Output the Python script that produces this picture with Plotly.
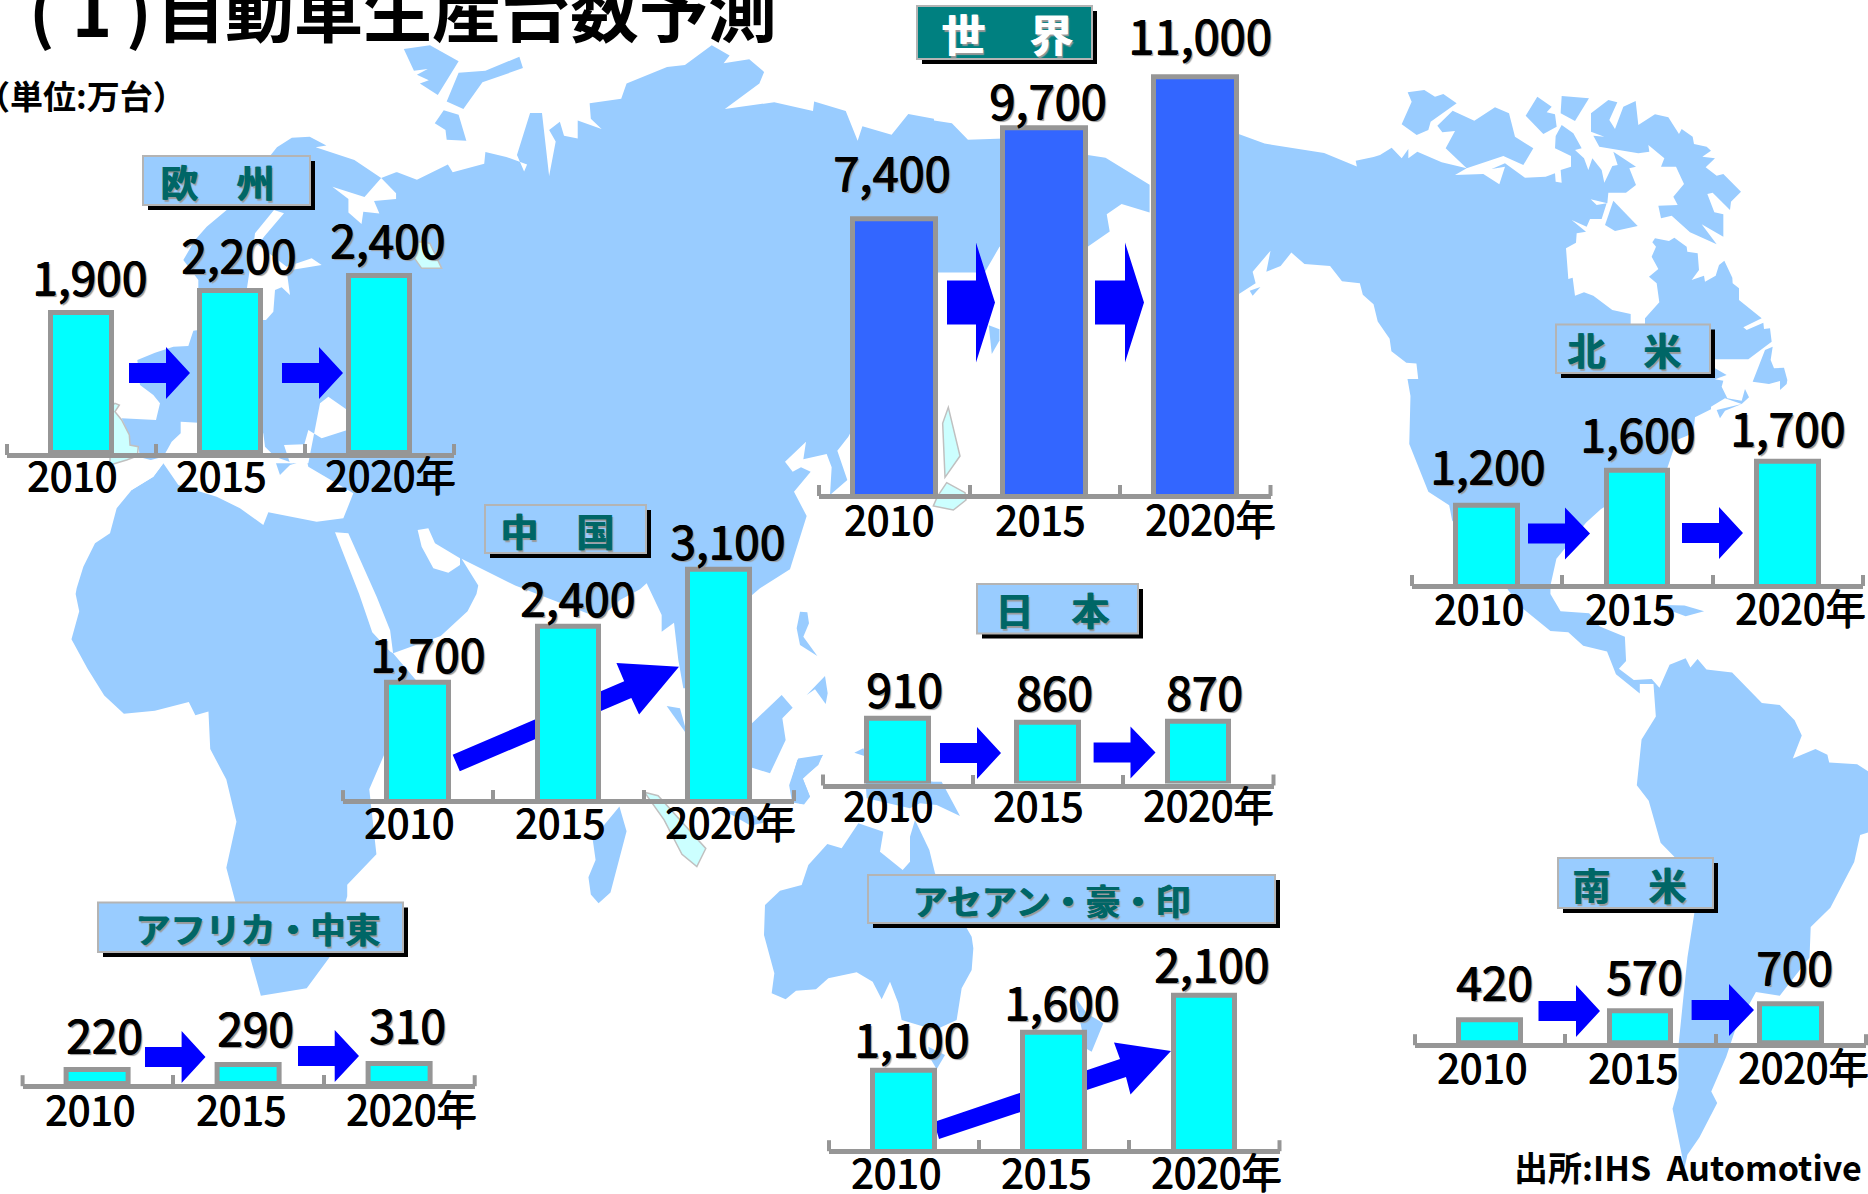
import plotly.graph_objects as go

W, H = 1868, 1194
FONT = "Noto Sans CJK JP"
LAND, PALE, GRAY, BLUE, CYAN, ROYAL = "#99CCFF", "#CCFFFF", "#969696", "#0000FF", "#00FFFF", "#3366FF"

# ---------- data ----------
years = ["2010", "2015", "2020年"]
world = [7400, 9700, 11000]
europe = [1900, 2200, 2400]
china = [1700, 2400, 3100]
north_america = [1200, 1600, 1700]
japan = [910, 860, 870]
asean = [1100, 1600, 2100]
africa_me = [220, 290, 310]
south_america = [420, 570, 700]

def tile(x0, y0, sx, sy):
    return lambda pts: [(x0 + a / sx, y0 + b / sy) for a, b in pts]
Z1, Z2 = tile(0, 0, 1.679, 2.613), tile(934, 0, 1.679, 2.613)
Z3, Z4 = tile(0, 594, 1.679, 2.613), tile(934, 594, 1.679, 2.613)
Z5, Z6 = tile(60, 200, 3, 3), tile(600, 380, 3, 3)
Z7, Z8 = tile(720, 740, 3, 3), tile(1380, 70, 3, 3)

afro_eurasia = (
    Z1([(465,385),(490,360),(520,357),(548,380),(530,385),(595,418),(640,465),(665,450),(667,450),(700,470),(752,430),(760,450),
        (813,428),(815,397),(850,410),(885,430),(880,448),(868,405),(890,295),(910,295),(922,460),(933,370),(922,340),(940,318),
        (947,355),(970,362),(970,315),(1010,337),(992,310),(990,270),(1043,258),(1052,218),(1120,175),(1150,170),(1195,118),
        (1225,145),(1215,165),(1258,155),(1283,188),(1275,218),(1217,285),(1300,267),(1365,290),(1367,265),(1420,290),(1440,368),
        (1448,330),(1497,352),(1525,298),(1568,310)])
    + Z2([(0,315),(30,322),(57,365),(118,362),(258,405),(288,412),(362,483),(362,555),(315,533),(290,560),(295,605),(258,645),
          (110,645),(85,712),(0,712)])
    + Z6([(745,170),(712,212),(742,300),(690,345),(695,262),(680,222),(610,238),(618,185),(555,245),(578,275),(603,262),(632,275),
          (582,335),(620,408),(570,568),(480,625),(445,655),(350,800),(258,925),(250,925),(235,840),(222,728),(185,755),(185,705),
          (140,610),(120,628),(60,660),(0,715)])
    + Z1([(865,1530),(785,1468),(775,1460),(803,1530)])
    + Z3([(800,0),(785,45),(740,110),(660,155),(700,228),(645,420),(620,510),(632,680),(583,760),(583,790),(553,950),(515,1030),
          (438,1050),(420,950),(380,715),(397,595),(380,485),(353,405),(350,307),(328,317),(317,282),(260,305),(208,313),(175,265),
          (147,195),(120,118),(133,45),(127,0)])
    + Z5([(50,1165),(70,1100),(105,1030),(150,1000),(170,925),(215,870),(280,830),(310,790),(240,772),(235,740),(210,735),(208,705),
          (185,655),(288,660),(300,610),(280,585),(240,555),(232,480),(285,458),(340,440),(385,438),(400,392),(415,390),(415,240),
          (370,180),(405,120),(440,80),(500,30)])
)
arctic_islands = [
    Z1([(678,128),(722,118),(770,160),(735,248),(705,218),(720,210),(700,195),(718,180),(695,185)]),
    Z1([(770,190),(815,185),(872,148),(878,178),(810,215),(778,285),(750,265)]),
    Z1([(745,288),(770,300),(783,368),(750,365),(748,340),(730,322)]),
    Z8([(83,67),(133,60),(165,80),(190,72),(230,100),(152,155),(145,180),(110,195),(65,163),(95,95)]),
    Z8([(172,167),(218,122),(283,152),(345,112),(387,130),(405,200),(460,235),(430,285),(370,258),(260,295),(197,235),(225,183),(187,187)]),
    Z8([(437,137),(472,80),(515,110),(500,127),(525,133),(530,170),(490,192)]),
    Z8([(545,78),(627,85),(585,153),(542,130)]),
    Z8([(633,130),(685,90),(712,97),(688,150),(705,177),(730,110),(767,93),(775,165),(825,133),(865,142),(897,192),(905,177),(938,200),
        (942,222),(980,230),(993,242),(967,260),(1005,265),(977,292),(1010,317),(1030,312),(1083,365),(1053,395),(1050,420),(998,368),
        (982,372),(1003,427),(1030,433),(1030,500),(965,463),(1010,523),(930,487),(875,437),(843,445),(835,407),(893,405),(880,380),
        (912,342),(888,290),(843,290),(853,265),(805,225),(808,245),(775,250),(658,230),(640,197),(673,200),(633,185)]),
    Z8([(675,465),(700,392),(773,468),(705,483)]),
    Z8([(1178,830),(1172,870),(1182,895),(1212,893),(1222,930),(1220,942),(1200,960),(1200,933),(1167,942),(1118,935),(1155,840)]),
    Z8([(1010,1020),(1085,1002),(1035,1022),(1020,1045)]),
]
americas = (
    Z2([(508,348),(555,375),(655,400),(710,435),(708,420),(738,410)])
    + Z8([(0,255),(35,233),(65,265),(85,237),(85,265),(112,245),(185,277),(260,295),(225,315),(310,312),(358,343),(375,290),(335,297),
          (375,280),(435,323),(497,320),(525,310),(527,335),(545,338),(542,300),(573,290),(573,258),(525,235),(527,198),(545,165),(580,190),
          (605,235),(585,240),(612,265),(625,300),(637,265),(665,300),(673,338),(697,288),(713,285),(700,245),(768,290),(748,295),(768,345),
          (738,368),(685,368),(682,400),(632,388),(650,405),(680,400),(665,447),(630,447),(620,470),(575,450),(618,485),(590,490),(588,518),
          (558,535),(565,627),(578,623),(585,677),(612,667),(640,677),(697,720),(752,732),(752,765),(795,762),(795,745),(838,697),(830,640),
          (807,620),(835,597),(815,560),(828,530),(817,517),(825,505),(867,513),(883,503),(920,530),(922,545),(953,550),(957,600),(935,630),
          (972,617),(975,635),(1007,617),(1017,585),(1033,572),(1057,623),(1058,640),(1077,655),(1077,690),(1145,745),(1090,772),(1100,780),
          (1150,758),(1152,777),(1170,775),(1175,815),(1105,868),(1005,868),(1005,895),(1040,915),(1005,928),(1030,932),(1025,950),(1042,985),
          (1085,992),(1095,957),(1107,982),(1085,1002),(1035,985),(993,1010),(993,1018),(945,1042),(940,1090),(890,1110),(860,1200)])
    + Z2([(1120,1330),(1095,1365),(1045,1460),(1035,1530)])
    + Z4([(1035,0),(1052,45),(1100,50),(1118,85),(1160,112),(1162,175),(1150,195),(1175,225),(1205,222),(1218,245),(1235,185),(1262,168),
          (1270,192),(1282,170),(1297,197),(1340,205),(1390,285),(1420,290),(1445,330),(1457,370),(1442,430),(1480,405),(1500,420),(1503,440),
          (1550,445),(1575,470),(1575,620),(1555,630),(1545,700),(1505,820),(1472,870),(1470,950),(1420,1050),(1380,1040),(1345,1140),
          (1330,1210),(1305,1300),(1315,1330),(1285,1420),(1265,1465),(1260,1500),(1240,1345),(1250,1290),(1250,1180),(1265,950),(1280,800),
          (1245,690),(1220,650),(1200,540),(1180,500),(1188,380),(1212,320),(1208,235),(1185,235),(1185,260),(1145,210),(1130,150),(1090,135),
          (1065,100),(1035,97),(990,40)])
    + Z2([(870,1360),(865,1320),(830,1285),(798,1160),(800,1035),(795,990),(813,990),(810,950),(793,948),(768,918),(765,885),(745,840),
          (738,795),(720,770),(715,740),(685,735),(665,695),(622,690),(600,660),(582,695),(558,710),(565,655),(535,710),(540,740),(510,770)])
)
other_land = [
    Z7([(415,250),(490,275),(480,335),(548,390),(570,365),(570,290),(585,240),(628,330),(645,400),(755,590),(760,625),(755,690),(725,745),
        (710,840),(645,870),(545,840),(535,790),(510,725),(485,778),(458,725),(410,697),(325,715),(288,748),(228,752),(197,778),(155,760),
        (163,700),(132,585),(135,495),(180,452),(245,435),(265,375),(322,312),(365,325)]),
    Z7([(625,920),(675,945),(650,988),(628,950)]),
    Z7([(1065,770),(1100,820),(1150,850),(1115,935),(1097,925)]),
    Z3([(1040,555),(1052,620),(1025,780),(1005,808),(992,785),(988,740),(1000,695),(995,640)]),
    Z6([(445,1040),(545,945),(578,983),(547,1015),(557,1080),(510,1180),(447,1160)]),
    Z6([(200,978),(240,985),(258,1050),(258,1060)]),
    Z6([(600,695),(622,697),(627,730),(610,770),(652,828),(600,795),(590,745)]),
    Z6([(620,945),(675,888),(683,940),(677,972),(645,928)]),
    Z3([(1340,430),(1382,420),(1370,450),(1348,483),(1360,530),(1350,550),(1330,545),(1325,500)]),
    Z7([(212,130),(232,60),(308,45),(295,75),(248,115),(270,170),(240,192),(215,165)]),
    Z7([(403,38),(430,25),(440,50)]),
    Z7([(435,95),(640,125),(665,125),(720,228),(650,195),(600,190),(570,205),(440,175)]),
    Z3([(1215,565),(1255,570),(1290,595),(1260,605)]),
    Z4([(1210,28),(1260,30),(1293,45),(1262,58)]),
    Z2([(530,760),(548,750),(535,773)]),
    Z2([(92,850),(110,860),(110,890),(97,925)]),
]
seas = [
    Z5([(642,30),(672,40),(612,110),(595,135),(680,200),(755,175),(785,195),(680,212),(690,285),(665,262),(645,270),(640,335),(618,360),
        (608,360),(600,270),(560,270),(580,140),(585,100)]),
    Z1([(558,488),(612,515),(640,465),(665,505),(665,520),(628,525),(637,558),(610,553),(607,585),(585,555),(585,520)]),
    Z5([(780,610),(805,590),(862,630),(862,690),(785,715),(745,690),(733,733),(672,735),(690,790),(745,790)]),
    Z5([(170,815),(235,790),(310,770),(335,725),(362,700),(362,665),(415,668),(440,700),(610,700),(615,740),(645,770),(700,790),(648,790),
        (660,825),(690,795),(740,780),(745,800),(880,880),(850,955),(770,965),(625,937),(610,975),(540,925),(470,890),(355,855),(310,790),
        (280,830),(215,870)]),
    Z5([(825,997),(865,1000),(950,1190)]) + Z3([(655,95),(660,155),(655,150),(625,100),(603,0)]),
    Z5([(1073,990),(1105,985),(1125,1030),(1200,1075),(1200,1095),(1165,1118),(1120,1105),(1085,1040)]),
]
pale_land = [
    Z5([(150,620),(165,610),(178,615),(165,635),(185,660),(208,705),(210,735),(235,740),(232,768),(200,780),(150,795)]),
    Z5([(1050,155),(1075,125),(1110,130),(1145,205),(1085,205),(1060,170)]),
    Z6([(1045,82),(1080,228),(1035,292),(1028,130)]),
    Z6([(1040,308),(1095,338),(1098,360),(1060,390),(1000,378),(1012,350)]),
    Z3([(1082,518),(1105,527),(1185,665),(1170,712),(1145,680),(1115,590)]),
]

# ---------- page layout of each panel (pixels) ----------
# name, values, axis x0, axis x1, baseline, px per unit, axis floor, bar fill, bar fraction,
# value-label x shifts, value-label size, year-label left offset, year-label drop, value-label lift per bar
panels = [
    ("world", world, 819, 1270.5, 497.5, 0.0395, 450, ROYAL, 0.55, [-3, 3, 5], 47, -52, 7.5, [9, -9, 4]),
    ("europe", europe, 7, 454, 456.5, 0.0737, 0, CYAN, 0.41, [8, 8, 8], 46, -57, 5.5, [0, 0, 0]),
    ("china", china, 343, 794, 802.6, 0.081, 270, CYAN, 0.41, [9, 9, 9], 46, -56, 6, [-7, -7, -7]),
    ("north_america", north_america, 1412, 1863, 587.5, 0.088, 310, CYAN, 0.41, [0, 0, 0], 46, -55, 6.5, [4, 0, -2]),
    ("japan", japan, 823, 1273.5, 787, 0.0712, 0, CYAN, 0.41, [6, 6, 6], 46, -57, 5, [-6, -6, -6]),
    ("asean", asean, 829, 1279.5, 1152.7, 0.0748, 50, CYAN, 0.41, [7, 7, 7], 46, -55, 5.5, [-4, -5, -4]),
    ("africa_me", africa_me, 22.6, 474.7, 1087.7, 0.065, 0, CYAN, 0.41, [7, 7, 8], 46, -55, 8, [-1, 1, 3]),
    ("south_america", south_america, 1415, 1866, 1046.7, 0.0555, 0, CYAN, 0.41, [4, 4, 4], 46, -55, 7, [2, 0, 1]),
]
# text, box x0,y0,x1,y1, fill, text colour, size, text centre
headers = [
    ("世\u3000界", 917, 6, 1092, 59, "#008080", "#FFFFFF", 44, 1007),
    ("欧\u3000州", 143, 156, 310, 205, LAND, "#006666", 38, 217),
    ("中\u3000国", 485, 505, 646, 553, LAND, "#006666", 38, 557),
    ("北\u3000米", 1556, 324.5, 1710, 373, LAND, "#006666", 38, 1624),
    ("日\u3000本", 977, 584, 1138, 633.4, LAND, "#006666", 38, 1052),
    ("アセアン・豪・印", 868, 875, 1275, 923, LAND, "#006666", 35, 1051),
    ("アフリカ・中東", 98, 902.5, 403, 952, LAND, "#006666", 35, 257.5),
    ("南\u3000米", 1558, 858, 1713, 908, LAND, "#006666", 38, 1629),
]
# tail x, head base x, tip x, centre y, shaft half height, head half height
block_arrows = [
    (129, 166, 190, 373, 10, 26), (282, 319, 343, 373, 10, 26),
    (947, 976, 995, 302.5, 22, 60), (1095, 1125, 1144, 302.5, 22, 60),
    (1528, 1565, 1590, 533.5, 10, 26), (1682, 1719, 1743, 533, 10, 26),
    (940, 977, 1001, 753, 10, 26), (1093.6, 1130.5, 1155.5, 752.4, 10, 26),
    (145, 181.6, 205.5, 1057, 10, 26), (298, 334.7, 359, 1056, 10, 26),
    (1538.5, 1576, 1600, 1011, 10, 26), (1691.6, 1729, 1754, 1010, 10, 26),
]
slant_arrows = [
    Z3([(760,420),(772,463),(1060,272),(1073,315),(1140,190),(1035,180),(1048,228)]),
    [(934,1122),(1120,1059),(1114,1042.5),(1171,1051),(1130.5,1094.6),(1126,1077),(939,1139)],
]

# ---------- helpers ----------
def px(x): return x / W
def py(y): return 1 - y / H

def poly(points, fill, line=None, lw=0):
    d = "M" + "L".join(f"{px(a):.5f},{py(b):.5f}" for a, b in points) + "Z"
    return dict(type="path", path=d, xref="paper", yref="paper", layer="below", fillcolor=fill,
                line=dict(color=line or fill, width=lw))

def rect(x0, y0, x1, y1, fill, line=None, lw=0):
    return dict(type="rect", xref="paper", yref="paper", layer="below", x0=px(x0), x1=px(x1),
                y0=py(y1), y1=py(y0), fillcolor=fill, line=dict(color=line or fill, width=lw))

def font(size, color="#000000", shadow="none", weight="bold"):
    return dict(family=FONT, size=size, color=color, weight=weight, shadow=shadow)

def page_text(text, x, y, anchor, size):
    return dict(text=text, xref="paper", yref="paper", x=px(x), y=py(y), xanchor=anchor, yanchor="middle",
                showarrow=False, font=font(size))

FAUX_BOLD = "1px 0 0 #000000, 0 1px 0 #000000"
shapes = []
for part in [afro_eurasia, americas] + arctic_islands + other_land:
    shapes.append(poly(part, LAND))
for part in seas:
    shapes.append(poly(part, "#FFFFFF"))
for part in pale_land:
    shapes.append(poly(part, PALE, "#C0C0C0", 1.5))
for a, b, c, y, s, h in block_arrows:
    shapes.append(poly([(a, y - s), (b, y - s), (b, y - h), (c, y), (b, y + h), (b, y + s), (a, y + s)], BLUE))
for part in slant_arrows:
    shapes.append(poly(part, BLUE))

annotations = []
for text, x0, y0, x1, y1, fill, color, size, cx in headers:
    shapes.append(rect(x0 + 5, y0 + 5, x1 + 5, y1 + 5, "#000000"))
    shapes.append(rect(x0, y0, x1, y1, fill, "#B4B4B4", 2))
    annotations.append(dict(text=text, xref="paper", yref="paper", x=px(cx), y=py((y0 + y1) / 2), xanchor="center",
                            yanchor="middle", showarrow=False,
                            font=font(size, color, f"1px 0 0 {color}, 2px 2px 1px #999999")))

annotations += [
    page_text("(", 42, 7, "center", 68),
    page_text("1", 92, 7, "center", 68),
    page_text(")", 139, 7, "center", 68),
    page_text("自動車生産台数予測", 154, 7, "left", 69),
    page_text("（単位:万台）", -25, 95, "left", 33),
    page_text("出所:IHS  Automotive", 1864, 1166, "right", 34),
]

fig = go.Figure()
layout = {}
for i, (name, vals, x0, x1, base, scale, floor, fill, frac, dx, size, lx, ly, lift) in enumerate(panels, start=1):
    foot = base - 3.5
    top = foot - (max(vals) - floor) * scale - 20
    suffix = "" if i == 1 else str(i)
    fig.add_trace(go.Bar(x=years, y=vals, name=name, xaxis=f"x{suffix}", yaxis=f"y{suffix}", width=frac,
                         marker=dict(color=fill, line=dict(color=GRAY, width=5)), showlegend=False))
    layout[f"xaxis{suffix}"] = dict(
        domain=[px(x0), px(x1)], anchor=f"y{suffix}", type="category", categoryorder="array", categoryarray=years,
        range=[-0.5, 2.5], tickson="boundaries", ticks="inside", ticklen=9, tickwidth=4, tickcolor=GRAY,
        showline=True, linecolor=GRAY, linewidth=5, showgrid=False, zeroline=False, fixedrange=True,
        showticklabels=False)
    layout[f"yaxis{suffix}"] = dict(
        domain=[py(foot), py(top)], anchor=f"x{suffix}", range=[floor, floor + (foot - top) / scale],
        visible=False, fixedrange=True)
    # the two outer ticks of the axis
    for edge in (x0, x1):
        shapes.append(dict(type="line", xref="paper", yref="paper", x0=px(edge), x1=px(edge), y0=py(foot + 2),
                           y1=py(foot - 9), line=dict(color=GRAY, width=4)))
    for k, (c, v) in enumerate(zip(years, vals)):
        annotations.append(dict(text=f"{v:,}", xref=f"x{suffix}", yref=f"y{suffix}", x=k, y=v, xanchor="center",
                                yanchor="bottom", xshift=dx[k], yshift=3 + lift[k], showarrow=False,
                                font=font(size, "#000000", FAUX_BOLD + ", 2px 2px 1px #999999", "normal")))
        annotations.append(dict(text=c, xref=f"x{suffix}", yref=f"y{suffix}", x=k, y=floor, xanchor="left",
                                yanchor="top", xshift=lx, yshift=16 - ly, showarrow=False,
                                font=font(40.5, "#000000", FAUX_BOLD, "normal")))

fig.update_layout(width=W, height=H, margin=dict(l=0, r=0, t=0, b=0, autoexpand=False), paper_bgcolor="#FFFFFF",
                  plot_bgcolor="rgba(0,0,0,0)", shapes=shapes, annotations=annotations, showlegend=False, bargap=0, **layout)
fig.write_html("out.html", config=dict(displayModeBar=False),
               post_script="document.body.style.margin='0';document.body.style.overflow='hidden';")
